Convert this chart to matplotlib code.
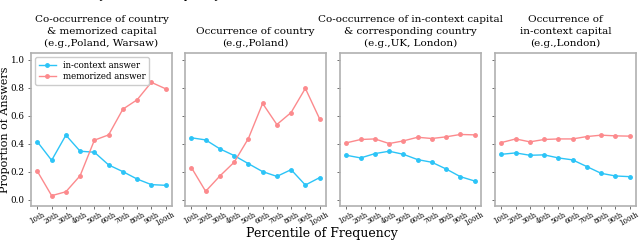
import matplotlib
matplotlib.use("Agg")
import matplotlib.pyplot as plt

plt.rcParams['font.family'] = ['DejaVu Serif']

percentiles = ["10th", "20th", "30th", "40th", "50th", "60th", "70th", "80th", "90th", "100th"]

titles = [
    "Co-occurrence of country\n& memorized capital\n(e.g.,Poland, Warsaw)",
    "Occurrence of country\n(e.g.,Poland)",
    "Co-occurrence of in-context capital\n& corresponding country\n(e.g.,UK, London)",
    "Occurrence of\nin-context capital\n(e.g.,London)",
]

in_context_1 = [0.414, 0.282, 0.462, 0.347, 0.340, 0.249, 0.201, 0.148, 0.108, 0.103]
memorized_1 = [0.203, 0.029, 0.057, 0.172, 0.426, 0.464, 0.648, 0.715, 0.840, 0.794]

in_context_2 = [0.443, 0.428, 0.364, 0.316, 0.258, 0.201, 0.167, 0.215, 0.105, 0.158]
memorized_2 = [0.230, 0.060, 0.170, 0.268, 0.438, 0.689, 0.538, 0.624, 0.797, 0.579]

in_context_3 = [0.318, 0.299, 0.330, 0.347, 0.325, 0.287, 0.268, 0.220, 0.165, 0.134]
memorized_3 = [0.407, 0.431, 0.435, 0.402, 0.421, 0.447, 0.438, 0.450, 0.467, 0.464]

in_context_4 = [0.325, 0.335, 0.318, 0.321, 0.299, 0.285, 0.237, 0.189, 0.170, 0.165]
memorized_4 = [0.409, 0.435, 0.414, 0.431, 0.435, 0.435, 0.452, 0.462, 0.457, 0.455]

in_context = [in_context_1, in_context_2, in_context_3, in_context_4]
memorized = [memorized_1, memorized_2, memorized_3, memorized_4]

blue = '#2cc4f7'
red = '#fc8a8d'

fig = plt.figure(figsize=(6.4, 2.44), dpi=100)
lefts = [31, 185, 340, 495]
axes = []
for i, l in enumerate(lefts):
    ax = fig.add_axes([l / 640, 38 / 244, 141 / 640, 153 / 244])
    axes.append(ax)
    x = range(len(percentiles))
    ax.plot(x, in_context[i], color=blue, marker='o', markersize=2.5, linewidth=1.0,
            label='in-context answer')
    ax.plot(x, memorized[i], color=red, marker='o', markersize=2.5, linewidth=1.0,
            label='memorized answer')
    ax.set_ylim(-0.045, 1.05)
    ax.set_yticks([0.0, 0.2, 0.4, 0.6, 0.8, 1.0])
    ax.set_xticks(list(x))
    ax.set_xticklabels(percentiles, rotation=30, fontsize=5)
    ax.set_title(titles[i], fontsize=7.5, pad=5, linespacing=1.45)
    for s in ax.spines.values():
        s.set_color('#b0b0b0')
        s.set_linewidth(1.2)
    ax.tick_params(axis='both', length=2, width=0.6, color='#555555', pad=1.5)
    ax.tick_params(axis='y', labelsize=6.3, pad=2.5)
    if i > 0:
        ax.set_yticklabels([])

axes[0].legend(loc='upper left', fontsize=6.2, handlelength=2.0, borderpad=0.4,
               labelspacing=0.3, framealpha=1, edgecolor='#cccccc')

fig.text(0.0075, 0.47, 'Proportion of Answers', rotation=90, ha='center', va='center', fontsize=8)
fig.text(0.503, 0.045, 'Percentile of Frequency', ha='center', va='center', fontsize=9)
fig.text(0.5, 1.018, 'Pythia 6.9B Frequency Effect on In-Context and Memorized Answers Predictions',
         ha='center', va='center', fontsize=8)

fig.savefig('out.png', dpi=100)
